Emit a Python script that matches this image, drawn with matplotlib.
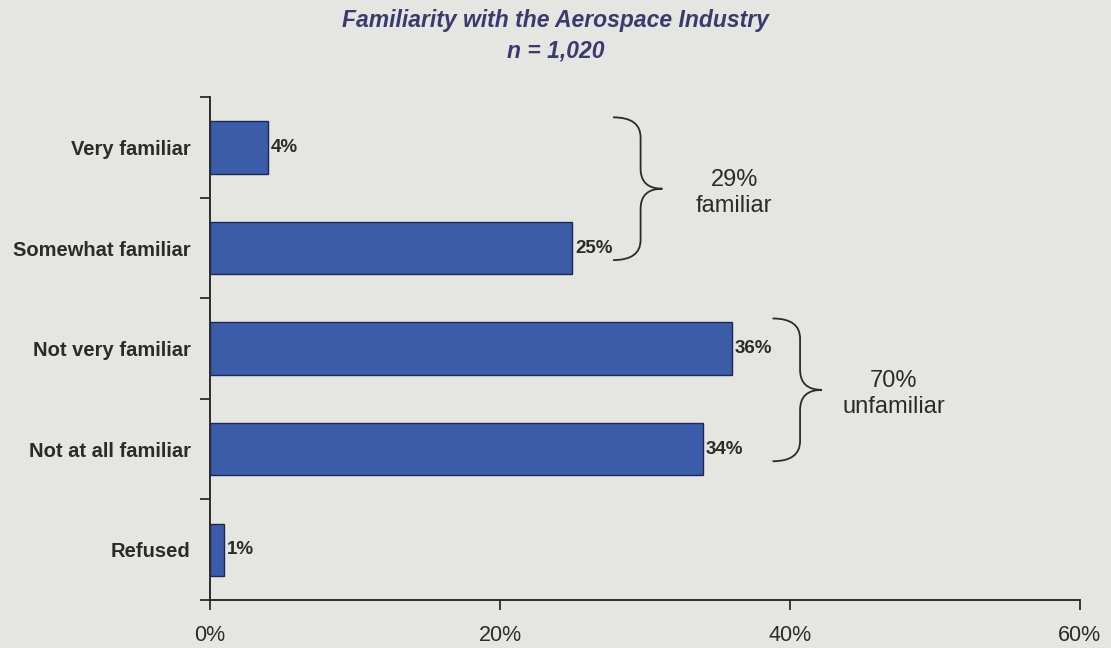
import matplotlib.pyplot as plt
from matplotlib.path import Path
from matplotlib.patches import PathPatch

categories = ['Very familiar', 'Somewhat familiar', 'Not very familiar',
              'Not at all familiar', 'Refused']
values = [4, 25, 36, 34, 1]
groups = [([0, 1], 'familiar'), ([2, 3], 'unfamiliar')]
xticks = [0, 20, 40, 60]

bg = '#e5e6e2'
bar_color = '#3b5ca8'
edge_color = '#1d2852'
ink = '#2b2b2b'
title_color = '#3b3a6f'

plt.rcParams['font.family'] = ['Liberation Sans', 'DejaVu Sans']

fig = plt.figure(figsize=(11.11, 6.48), dpi=100, facecolor=bg)
ax = fig.add_axes([0.189, 0.074, 0.783, 0.776], facecolor=bg)

pos = list(range(len(categories)))
bars = ax.barh(pos, values, height=0.52, color=bar_color,
               edgecolor=edge_color, linewidth=1.0)
ax.bar_label(bars, labels=[f'{v}%' for v in values], padding=2,
             fontsize=13.5, fontweight='bold', color=ink)

ax.set_xlim(0, 60)
ax.set_ylim(len(categories) - 0.5, -0.5)

# category boundaries get tick marks, labels sit at the bar centres
ax.set_yticks([p - 0.5 for p in pos] + [len(categories) - 0.5])
ax.set_yticklabels([])
ax.set_yticks(pos, minor=True)
ax.set_yticklabels(categories, minor=True, fontsize=14.5, fontweight='bold',
                   color=ink)
ax.tick_params(axis='y', which='major', length=7, width=1.3, color=ink)
ax.tick_params(axis='y', which='minor', length=0, pad=14)

ax.set_xticks(xticks)
ax.set_xticklabels([f'{t}%' for t in xticks], fontsize=15.5, color=ink)
ax.tick_params(axis='x', length=7, width=1.3, color=ink, pad=11)

for side in ['top', 'right']:
    ax.spines[side].set_visible(False)
for side in ['left', 'bottom']:
    ax.spines[side].set_color(ink)
    ax.spines[side].set_linewidth(1.4)


def brace(ax, x_end, x_line, x_tip, y_top, y_bot, r=0.2):
    y_mid = (y_top + y_bot) / 2
    verts = [
        (x_end, y_top), (x_line, y_top), (x_line, y_top + r),
        (x_line, y_mid - r),
        (x_line, y_mid), (x_tip, y_mid),
        (x_line, y_mid), (x_line, y_mid + r),
        (x_line, y_bot - r),
        (x_line, y_bot), (x_end, y_bot),
    ]
    codes = [Path.MOVETO, Path.CURVE3, Path.CURVE3, Path.LINETO,
             Path.CURVE3, Path.CURVE3, Path.CURVE3, Path.CURVE3,
             Path.LINETO, Path.CURVE3, Path.CURVE3]
    ax.add_patch(PathPatch(Path(verts, codes), fill=False, edgecolor=ink,
                           linewidth=1.3, clip_on=False))
    return y_mid


for idx, word in groups:
    x_end = max(values[i] for i in idx) + 2.8
    y_mid = brace(ax, x_end, x_end + 1.9, x_end + 3.4,
                  idx[0] - 0.3, idx[-1] + 0.12)
    total = sum(values[i] for i in idx)
    ax.text(x_end + 8.35, y_mid + 0.04, f'{total}%\n{word}', ha='center',
            va='center', fontsize=17, color=ink, linespacing=1.25)

fig.text(0.5, 0.968, 'Familiarity with the Aerospace Industry', ha='center',
         va='center', fontsize=16.5, fontweight='bold', fontstyle='italic',
         color=title_color)
fig.text(0.5, 0.922, 'n = 1,020', ha='center', va='center', fontsize=16.5,
         fontweight='bold', fontstyle='italic', color=title_color)

fig.savefig('out.png', dpi=100, facecolor=bg)
